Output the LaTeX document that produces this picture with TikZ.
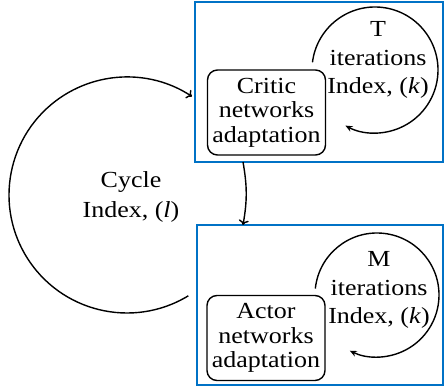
\documentclass[tikz,border=0pt]{standalone}
\usepackage{fontspec}
\setmainfont{Liberation Serif}[FakeStretch=1.13]
\usetikzlibrary{arrows.meta}
\definecolor{boxblue}{RGB}{0,114,198}
\begin{document}
\begin{tikzpicture}[x=1pt,y=1pt,
  frame/.style={draw=boxblue, line width=1.7pt, inner sep=0pt, outer sep=0pt},
  proc/.style={draw, line width=1.4pt, rounded corners=10pt, align=center,
    minimum width=118pt, minimum height=85pt, inner sep=0pt,
    font=\fontsize{23}{24.5}\selectfont},
  lbl/.style={align=center, inner sep=0pt, font=\fontsize{23}{28.5}\selectfont},
  conn/.style={line width=1.4pt, -{To[length=5pt,width=10pt]}},
  loopar/.style={line width=1.4pt, -{Stealth[length=7pt,width=6pt]}}]
\useasboundingbox (0,0) rectangle (445,390);
% frames
\node[frame, minimum width=248pt, minimum height=160pt] (topframe) at (319,308) {};
\node[frame, minimum width=246pt, minimum height=160pt] (botframe) at (320,85) {};
% process nodes
\node[proc] (critic) at (266.5,277.5) {Critic\\networks\\adaptation};
\node[proc] (actor) at (266,52) {Actor\\networks\\adaptation};
% loop labels
\node[lbl] (tlbl) at (378,330) {T\\iterations\\Index, (\textit{k})};
\node[lbl] (mlbl) at (379,100) {M\\iterations\\Index, (\textit{k})};
\node[lbl, font=\fontsize{23}{30}\selectfont] (cyc) at (131,193) {Cycle\\Index, (\textit{l})};
% inner loops
\draw[loopar] ([shift={(173:63)}]375,320) arc[start angle=173, end angle=-118, radius=63];
\draw[loopar] ([shift={(174:62)}]377,95) arc[start angle=174, end angle=-116, radius=62];
% big cycle
\coordinate (cs) at ([shift={(-58.7:118)}]127,195);
\draw[conn] (cs) arc[start angle=-58.7, end angle=-303.4, radius=118];
% between frames
\draw[conn] ([xshift=-76pt]topframe.south) to[bend left=10] ([xshift=-77pt]botframe.north);
\end{tikzpicture}
\end{document}
